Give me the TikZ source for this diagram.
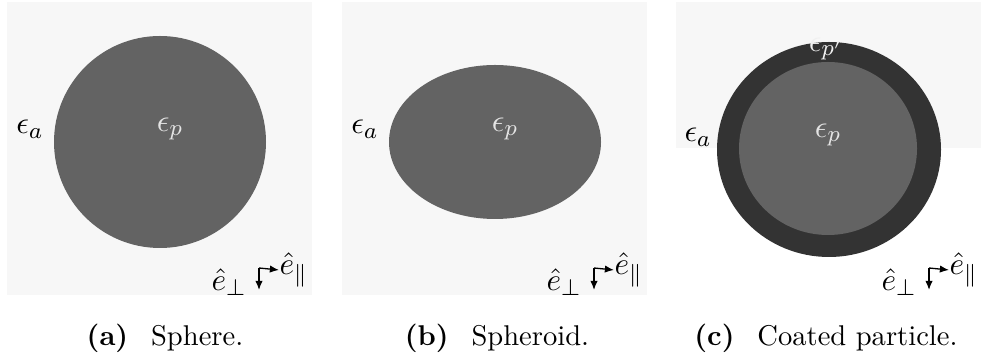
\documentclass[tikz,border=0pt]{standalone}
\usetikzlibrary{arrows.meta}
\definecolor{bgc}{RGB}{247,247,247}
\definecolor{partc}{RGB}{99,99,99}
\definecolor{ringc}{RGB}{51,51,51}
\definecolor{inlab}{RGB}{228,228,228}
\definecolor{ringlab}{RGB}{240,240,240}
\tikzset{
  lab/.style={inner sep=0pt, font=\fontsize{11}{13}\selectfont},
  captext/.style={inner sep=0pt, font=\fontsize{10}{12}\selectfont},
  axarrow/.style={-{Latex[length=3.2pt,width=2.6pt]}, line width=0.45pt},
}
\begin{document}
\begin{tikzpicture}[x=0.35pt,y=-0.35pt]
\useasboundingbox (0,0) rectangle (981,358);
\fill[white] (0,0) rectangle (981,358);
% panel a
\fill[bgc] (7,2) rectangle (312,295);
\fill[partc] (160,142) circle [radius=106];
\node[lab] (ea1) at (30,129) {$\epsilon_a$};
\node[lab, text=inlab] (ep1) at (170,129) {$\epsilon_p$};
\node[lab] (eperp1) at (229,282) {$\hat{e}_\perp$};
\coordinate (c1) at (259,268);
\coordinate (d1) at (259,290);
\node[lab, anchor=west] (epar1) at (279,270) {$\hat{e}_\parallel$};
\draw[axarrow] (c1) -- (d1);
\draw[axarrow] (c1) -- (epar1.west);
\node[captext] (capa) at (165,338) {\textbf{(a)}\hspace{8pt}Sphere.};
% panel b
\fill[bgc] (342,2) rectangle (647,295);
\fill[partc] (495,142) ellipse [x radius=106, y radius=77];
\node[lab] (ea2) at (365,129) {$\epsilon_a$};
\node[lab, text=inlab] (ep2) at (505,129) {$\epsilon_p$};
\node[lab] (eperp2) at (564,282) {$\hat{e}_\perp$};
\coordinate (c2) at (594,268);
\coordinate (d2) at (594,290);
\node[lab, anchor=west] (epar2) at (614,270) {$\hat{e}_\parallel$};
\draw[axarrow] (c2) -- (d2);
\draw[axarrow] (c2) -- (epar2.west);
\node[captext] (capb) at (497,338) {\textbf{(b)}\hspace{8pt}Spheroid.};
% panel c
\fill[bgc] (676,2) rectangle (981,148);
\fill[ringc] (829,149.5) ellipse [x radius=112, y radius=107.5];
\fill[partc] (828,148.5) ellipse [x radius=89, y radius=86.5];
\node[lab, text=ringlab] (epp3) at (826,49) {$\epsilon_{p'}$};
\node[lab] (ea3) at (698,137) {$\epsilon_a$};
\node[lab, text=inlab] (ep3) at (828,135) {$\epsilon_p$};
\node[lab] (eperp3) at (899,282) {$\hat{e}_\perp$};
\coordinate (c3) at (929,268);
\coordinate (d3) at (929,290);
\node[lab, anchor=west] (epar3) at (949,270) {$\hat{e}_\parallel$};
\draw[axarrow] (c3) -- (d3);
\draw[axarrow] (c3) -- (epar3.west);
\node[captext] (capc) at (826,338) {\textbf{(c)}\hspace{8pt}Coated particle.};
\end{tikzpicture}
\end{document}
